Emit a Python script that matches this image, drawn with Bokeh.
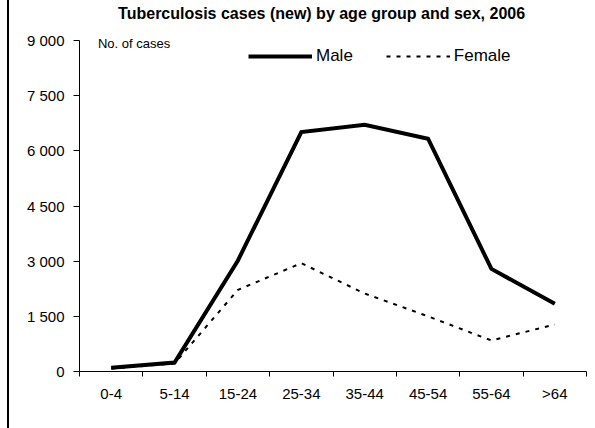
from bokeh.plotting import figure
from bokeh.models import Range1d, FixedTicker, Label, Legend, LegendItem, Div
from bokeh.layouts import row
from bokeh.embed import file_html
from bokeh.resources import INLINE

# ---- data ----
age_groups = ["0-4", "5-14", "15-24", "25-34", "35-44", "45-54", "55-64", ">64"]
male = [100, 245, 3020, 6510, 6710, 6330, 2790, 1840]
female = [80, 220, 2220, 2945, 2120, 1500, 843, 1280]
y_ticks = [0, 1500, 3000, 4500, 6000, 7500, 9000]
title_text = "Tuberculosis cases (new) by age group and sex, 2006"
y_label_text = "No. of cases"

FONT = "Liberation Sans"
n = len(age_groups)
xs = [i + 0.5 for i in range(n)]

# layout constants (pixels)
W, H = 586, 428
MB_LEFT, MB_RIGHT, MB_BOTTOM = 70, 9, 57
TOP_GAP = 40                      # px between canvas top and the 9 000 level
frame_h = H - MB_BOTTOM
y_max = y_ticks[-1]
y_end = y_max * frame_h / (frame_h - TOP_GAP)
px_per_unit = (frame_h - TOP_GAP) / y_max

p = figure(width=W, height=H, output_backend="svg", toolbar_location=None,
           x_range=Range1d(0, n), y_range=Range1d(0, y_end),
           min_border_left=MB_LEFT, min_border_right=MB_RIGHT,
           min_border_top=0, min_border_bottom=MB_BOTTOM)
p.xgrid.visible = False
p.ygrid.visible = False
p.outline_line_color = None
p.background_fill_color = "white"
p.border_fill_color = "white"

# x axis: ticks at category boundaries, labels at centres
xa = p.xaxis[0]
xa.ticker = FixedTicker(ticks=xs, minor_ticks=list(range(n + 1)))
xa.major_label_overrides = {x: lab for x, lab in zip(xs, age_groups)}
xa.major_tick_out = 0
xa.major_tick_in = 0
xa.minor_tick_out = 5
xa.minor_tick_in = 0
xa.minor_tick_line_color = "black"
xa.axis_line_color = "black"
xa.major_label_standoff = 8
xa.major_label_text_font = FONT
xa.major_label_text_font_size = "15px"
xa.major_label_text_color = "black"

ya = p.yaxis[0]
ya.ticker = FixedTicker(ticks=y_ticks, minor_ticks=[])
ya.bounds = (0, y_max)
ya.major_label_overrides = {t: f"{t:,}".replace(",", " ") for t in y_ticks}
ya.major_tick_out = 6
ya.major_tick_in = 0
ya.major_tick_line_color = "black"
ya.axis_line_color = "black"
ya.major_label_standoff = 9
ya.major_label_text_font = FONT
ya.major_label_text_font_size = "15px"
ya.major_label_text_color = "black"

r_m = p.line(xs, male, line_color="black", line_width=4, line_join="miter")
r_f = p.line(xs, female, line_color="black", line_width=2, line_dash="4 6")

legend = Legend(items=[LegendItem(label="Male", renderers=[r_m]),
                       LegendItem(label="Female", renderers=[r_f])],
                orientation="horizontal", location=(169, 305),
                glyph_width=64, glyph_height=20, label_height=20,
                label_standoff=4, spacing=33, padding=0, margin=0,
                border_line_alpha=0, background_fill_alpha=0,
                label_text_font=FONT, label_text_font_size="17px",
                label_text_color="black")
p.add_layout(legend)

p.add_layout(Label(x=0.29, y=y_max - 3 / px_per_unit, text=y_label_text,
                   text_font=FONT, text_font_size="13px", text_color="black",
                   text_baseline="alphabetic"))
p.add_layout(Label(x=3.82, y=y_max + 27 / px_per_unit, text=title_text,
                   text_font=FONT, text_font_size="16px", text_font_style="bold",
                   text_color="black", text_align="center",
                   text_baseline="alphabetic"))

border = Div(text="", width=2, height=H, margin=(0, 0, 0, 7),
             styles={"background-color": "black"})
layout = row(border, p, spacing=0)

open("out.html", "w").write(file_html(layout, INLINE))
